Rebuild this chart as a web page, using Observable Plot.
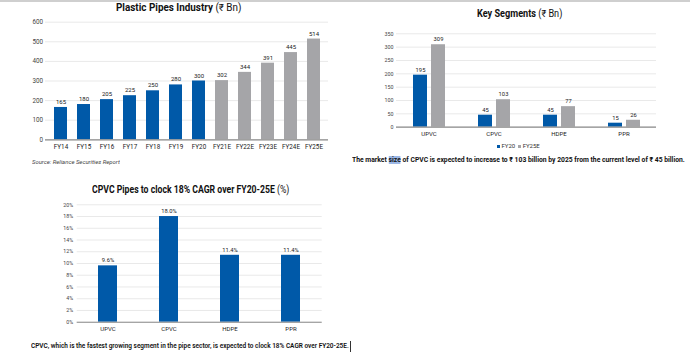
<!DOCTYPE html>
<html>
<head>
<meta charset="utf-8">
<script src="https://cdn.jsdelivr.net/npm/d3@7"></script>
<script src="https://cdn.jsdelivr.net/npm/@observablehq/plot@0.6"></script>
<style>
  body { margin: 0; background: #fff; }
  #root { position: relative; width: 690px; height: 357px; overflow: hidden; font-family: Roboto, "Noto Sans", sans-serif; background: #fff; }
  .topline { position: absolute; left: 0; top: 0; width: 690px; height: 1.5px; background: #cfcfcf; }
  .chart { position: absolute; }
  .chart svg { display: block; overflow: visible; }
  .txt { position: absolute; white-space: nowrap; line-height: 1; color: #111; transform-origin: left center; }
  .title { font-size: 10px; font-weight: 700; }
  .title span { font-weight: 400; }
  .source { font-size: 6px; font-style: italic; color: #444; }
  .cap { font-size: 7px; font-weight: 700; }
  .cap3 { font-size: 7px; font-weight: 600; }
  .hl { background: #9db8e6; }
  .legend { font-size: 6px; color: #333; display: flex; align-items: center; }
  .legend i { display: inline-block; width: 3px; height: 3px; margin-right: 1.5px; }
  .legend b { font-weight: 400; margin-right: 3px; }
  .cursor { position: absolute; width: 1px; background: #333; }
</style>
</head>
<body>
<div id="root">
  <div class="topline"></div>
</div>
<script>
// ---------- data ----------
const years = ["FY14","FY15","FY16","FY17","FY18","FY19","FY20","FY21E","FY22E","FY23E","FY24E","FY25E"];
const industryValues = [165,180,205,225,250,280,300,302,344,391,445,514];
const industryTicks = [0,100,200,300,400,500,600];

const segments = ["UPVC","CPVC","HDPE","PPR"];
const seriesNames = ["FY20","FY25E"];
const segFY20 = [195,45,45,15];
const segFY25E = [309,103,77,26];
const segTicks = [0,50,100,150,200,250,300,350];

const cagrValues = [9.6,18.0,11.4,11.4];
const cagrTicks = [0,2,4,6,8,10,12,14,16,18,20];

const title1 = ["Plastic Pipes Industry", "(₹ Bn)"];
const title2 = ["Key Segments", "(₹ Bn)"];
const title3 = ["CPVC Pipes to clock 18% CAGR over FY20-25E", "(%)"];
const sourceText = "Source: Reliance Securities Report";
const caption2 = ["The market ", "size", " of CPVC is expected to increase to ₹ 103 billion by 2025 from the current level of ₹ 45 billion."];
const caption3 = "CPVC, which is the fastest growing segment in the pipe sector, is expected to clock 18% CAGR over FY20-25E.";

// ---------- styles ----------
const BLUE = "#0059a8";
const GRAY = "#a5a5a8";
const GRID = "#e9e9e9";
const BASE = "#8c8c8c";
const FONT = "Roboto, 'Noto Sans', sans-serif";

const root = document.getElementById("root");

function addChart(svg, left, top) {
  const d = document.createElement("div");
  d.className = "chart";
  d.style.left = left + "px";
  d.style.top = top + "px";
  d.appendChild(svg);
  root.appendChild(d);
}

// ---------- chart 1 ----------
const industry = years.map((y, i) => ({year: y, value: industryValues[i], kind: y.endsWith("E") ? "Estimate" : "Actual"}));
const c1 = Plot.plot({
  width: 340, height: 155,
  marginTop: 21.7, marginBottom: 15.7, marginLeft: 45, marginRight: 12,
  style: {fontFamily: FONT, fontSize: "6.5px", color: "#333", background: "transparent"},
  x: {domain: years, paddingInner: 0.44, paddingOuter: 0.25, label: null},
  y: {domain: [0, 600], label: null},
  color: {domain: ["Actual", "Estimate"], range: [BLUE, GRAY]},
  marks: [
    Plot.gridY(industryTicks, {stroke: GRID, strokeOpacity: 1, strokeWidth: 1}),
    Plot.axisY(industryTicks, {tickSize: 0, tickPadding: 2.5, fontSize: 6.3, fill: "#444", label: null}),
    Plot.barY(industry, {x: "year", y: "value", fill: "kind"}),
    Plot.ruleY([0], {stroke: BASE, strokeWidth: 1.2}),
    Plot.axisX({tickSize: 0, tickPadding: 4.5, fontSize: 6.3, fill: "#222", label: null}),
    Plot.text(industry, {x: "year", y: "value", text: d => String(d.value), dy: -3.5, lineAnchor: "bottom", fontSize: 6, fill: "#222"})
  ]
});
addChart(c1, 0, 0);

// ---------- chart 2 ----------
const segData = segments.flatMap((s, i) => [
  {segment: s, series: seriesNames[0], value: segFY20[i]},
  {segment: s, series: seriesNames[1], value: segFY25E[i]}
]);
const c2 = Plot.plot({
  width: 345, height: 175,
  marginTop: 33.3, marginBottom: 48.3, marginLeft: 51, marginRight: 33.5,
  style: {fontFamily: FONT, fontSize: "5.5px", color: "#333", background: "transparent"},
  fx: {domain: segments, padding: 0, label: null},
  x: {domain: seriesNames, paddingInner: 0.24, paddingOuter: 0.84, axis: null},
  y: {domain: [0, 350], label: null},
  color: {domain: seriesNames, range: [BLUE, GRAY]},
  marks: [
    Plot.gridY(segTicks, {stroke: GRID, strokeOpacity: 1, strokeWidth: 1}),
    Plot.axisY(segTicks, {tickSize: 0, tickPadding: 3, fontSize: 5.3, fill: "#444", label: null}),
    Plot.barY(segData, {fx: "segment", x: "series", y: "value", fill: "series"}),
    Plot.ruleY([0], {stroke: BASE, strokeWidth: 1.3}),
    Plot.axisFx({anchor: "bottom", tickSize: 0, tickPadding: 5, fontSize: 6, fill: "#222", label: null}),
    Plot.text(segData, {fx: "segment", x: "series", y: "value", text: d => String(d.value), dy: -3.5, lineAnchor: "bottom", fontSize: 5.8, fill: "#222"})
  ]
});
addChart(c2, 345, 0);

// ---------- chart 3 ----------
const cagr = segments.map((s, i) => ({segment: s, value: cagrValues[i]}));
const c3 = Plot.plot({
  width: 345, height: 182,
  marginTop: 29.3, marginBottom: 35.3, marginLeft: 76.7, marginRight: 23.3,
  style: {fontFamily: FONT, fontSize: "5.5px", color: "#333", background: "transparent"},
  x: {domain: segments, paddingInner: 0.683, paddingOuter: 0.34, label: null},
  y: {domain: [0, 20], label: null},
  marks: [
    Plot.gridY(cagrTicks, {stroke: GRID, strokeOpacity: 1, strokeWidth: 1}),
    Plot.axisY(cagrTicks, {tickSize: 0, tickPadding: 4, fontSize: 5.3, fill: "#444", tickFormat: d => d + "%", label: null}),
    Plot.barY(cagr, {x: "segment", y: "value", fill: BLUE}),
    Plot.ruleY([0], {stroke: BASE, strokeWidth: 1.1}),
    Plot.axisX({tickSize: 0, tickPadding: 5, fontSize: 6, fill: "#222", label: null}),
    Plot.text(cagr, {x: "segment", y: "value", text: d => d.value.toFixed(1) + "%", dy: -3.5, lineAnchor: "bottom", fontSize: 5.8, fill: "#222"})
  ]
});
addChart(c3, 0, 175);

// ---------- HTML texts ----------
function addText(html, cls, opts) {
  const el = document.createElement("div");
  el.className = "txt " + cls;
  el.innerHTML = html;
  root.appendChild(el);
  const w = el.offsetWidth, h = el.offsetHeight;
  const s = opts.w / w;
  const left = opts.cx != null ? opts.cx - opts.w / 2 : opts.x;
  el.style.left = left + "px";
  el.style.top = (opts.cy - h / 2) + "px";
  el.style.transform = `scaleX(${s})`;
  return el;
}
addText(`${title1[0]} <span>${title1[1]}</span>`, "title", {cx: 178.5, cy: 8, w: 125.5});
addText(`${title2[0]} <span>${title2[1]}</span>`, "title", {cx: 519, cy: 14, w: 85});
addText(`${title3[0]} <span>${title3[1]}</span>`, "title", {cx: 190.5, cy: 189.5, w: 197});
addText(sourceText, "source", {x: 31.5, cy: 162, w: 88});
addText(`${caption2[0]}<span class="hl">${caption2[1]}</span>${caption2[2]}`, "cap", {x: 352, cy: 160.8, w: 333});
addText(caption3, "cap3", {x: 31, cy: 346.8, w: 318});

// legend for chart 2
const lg = document.createElement("div");
lg.className = "txt legend";
lg.innerHTML = seriesNames.map((n, i) => `<i style="background:${[BLUE, GRAY][i]}"></i><b>${n}</b>`).join("");
root.appendChild(lg);
{
  const w = lg.offsetWidth, h = lg.offsetHeight;
  lg.style.left = (520 - w / 2) + "px";
  lg.style.top = (146.2 - h / 2) + "px";
}
// text cursor after caption 3
const cur = document.createElement("div");
cur.className = "cursor";
cur.style.left = "350px"; cur.style.top = "341px"; cur.style.height = "11px";
root.appendChild(cur);
</script>
</body>
</html>
